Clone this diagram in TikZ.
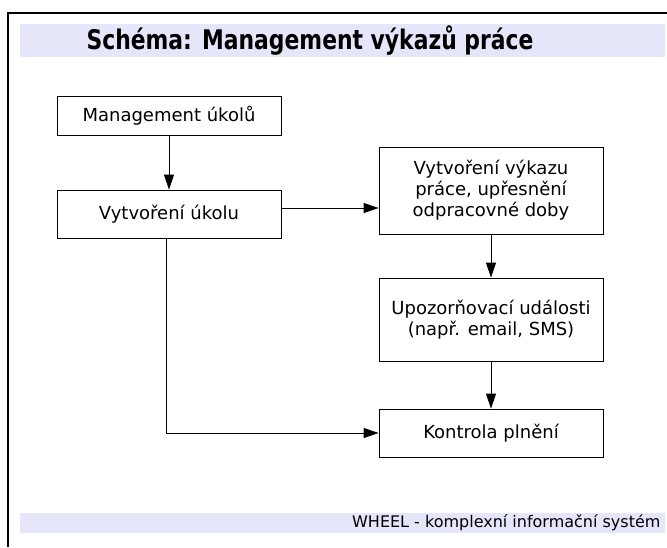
\documentclass[tikz,border=0pt]{standalone}
\usepackage{fontspec}
\setmainfont{DejaVu Sans}
\newfontfamily\titlefont[FakeStretch=0.81]{DejaVu Sans}
\usetikzlibrary{arrows.meta}
\definecolor{bandcol}{RGB}{230,230,250}
\begin{document}
\begin{tikzpicture}[x=1pt,y=-1pt,
  box/.style={draw, line width=0.8pt, minimum width=224pt, align=center,
    font=\fontsize{18}{21}\selectfont, inner sep=0pt},
  conn/.style={line width=0.8pt, -{Triangle[length=15pt,width=10pt]}}]
\useasboundingbox (0,0) rectangle (667,547);
\draw[line width=1.2pt] (8,547) -- (8,13) -- (667,13);
\fill[bandcol] (20,24) rectangle (665,57);
\node[font=\titlefont\bfseries\fontsize{27}{30}\selectfont] (title) at (310,41) {Schéma: Management výkazů práce};
\node[box, minimum height=39pt] (b1) at (169,115.5) {Management úkolů};
\node[box, minimum height=48pt] (b2) at (169,214) {Vytvoření úkolu};
\node[box, minimum height=87pt] (b3) at (491,190.5) {Vytvoření výkazu\\práce, upřesnění\\odpracovné doby};
\node[box, minimum height=83pt] (b4) at (491,319.5) {Upozorňovací události\\(např. email, SMS)};
\node[box, minimum height=48pt] (b5) at (491,433) {Kontrola plnění};
\draw[conn] (b1.south) -- (b2.north);
\draw[conn] ([yshift=6pt]b2.east) -- ([yshift=6pt]b2.east -| b3.west);
\draw[conn] (b3.south) -- (b4.north);
\draw[conn] (b4.south) -- (b5.north);
\draw[conn] ([xshift=-3pt]b2.south) |- (b5.west);
\fill[bandcol] (20,513) rectangle (665,533);
\node[anchor=east, font=\fontsize{16}{18}\selectfont] (foot) at (664,523) {WHEEL - komplexní informační systém};
\end{tikzpicture}
\end{document}
